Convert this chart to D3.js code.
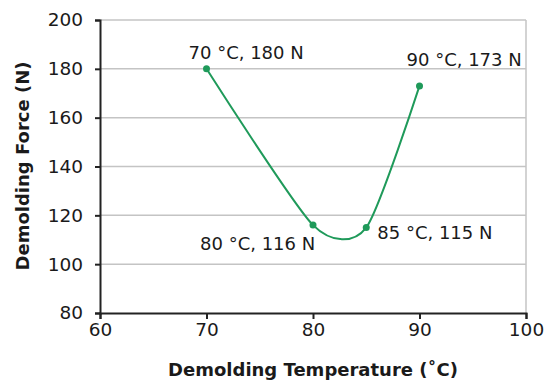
<!DOCTYPE html>
<html>
<head>
<meta charset="utf-8">
<script src="https://cdn.jsdelivr.net/npm/d3@7"></script>
<style>
  body { margin: 0; background: #fff; }
  svg { display: block; font-family: "DejaVu Sans", sans-serif; }
</style>
</head>
<body>
<div id="chart"></div>
<script>
// data
var temps = [70, 80, 85, 90];
var forces = [180, 116, 115, 173];
var pointLabels = ["70 °C, 180 N", "80 °C, 116 N", "85 °C, 115 N", "90 °C, 173 N"];
var xTicks = [60, 70, 80, 90, 100];
var yTicks = [80, 100, 120, 140, 160, 180, 200];

var width = 546;
var height = 381;
var margin = {"top": 20, "right": 20, "bottom": 68, "left": 100};

var data = temps.map(function(t, i) {
    return {x: t, y: forces[i], label: pointLabels[i]};
});

// label offsets from the point (dx, baseline dy)
var labelPos = [[-18, -10], [-113, 25], [11, 11], [-13, -20]];

var xScale = d3.scaleLinear()
    .domain([60, 100])
    .range([margin.left, width - margin.right]);
var yScale = d3.scaleLinear()
    .domain([80, 200])
    .range([height - margin.bottom, margin.top]);

var svg = d3.select("#chart").append("svg")
    .attr("width", width)
    .attr("height", height);

// gridlines
svg.append("g")
    .selectAll("line")
    .data(yTicks.slice(1))
    .enter().append("line")
    .attr("x1", xScale(60))
    .attr("x2", xScale(100))
    .attr("y1", function(d) { return yScale(d); })
    .attr("y2", function(d) { return yScale(d); })
    .attr("stroke", "#c4c4c4")
    .attr("stroke-width", 1.5);

// right border of plot area
svg.append("line")
    .attr("x1", xScale(100))
    .attr("x2", xScale(100))
    .attr("y1", yScale(200))
    .attr("y2", yScale(80))
    .attr("stroke", "#c4c4c4")
    .attr("stroke-width", 1.5);

// axes
var xAxis = d3.axisBottom(xScale)
    .tickValues(xTicks)
    .tickSize(6)
    .tickPadding(4)
    .tickFormat(d3.format("d"));
var yAxis = d3.axisLeft(yScale)
    .tickValues(yTicks)
    .tickSize(5)
    .tickPadding(12)
    .tickFormat(d3.format("d"));

var gx = svg.append("g")
    .attr("transform", "translate(" + [0, height - margin.bottom] + ")")
    .call(xAxis);
var gy = svg.append("g")
    .attr("transform", "translate(" + [margin.left, 0] + ")")
    .call(yAxis);

[gx, gy].forEach(function(g) {
    g.select(".domain").attr("stroke", "#222").attr("stroke-width", 2);
    g.selectAll(".tick line").attr("stroke", "#222").attr("stroke-width", 2);
    g.selectAll(".tick text")
        .attr("fill", "#1a1a1a")
        .style("font-family", "DejaVu Sans, sans-serif")
        .style("font-size", "18.5px");
});

// axis titles
svg.append("text")
    .attr("x", (xScale(60) + xScale(100)) / 2)
    .attr("y", 376)
    .attr("text-anchor", "middle")
    .style("font-size", "18px")
    .style("font-weight", "bold")
    .attr("fill", "#1a1a1a")
    .text("Demolding Temperature (˚C)");

svg.append("text")
    .attr("transform", "translate(29,166) rotate(-90)")
    .attr("text-anchor", "middle")
    .style("font-size", "18px")
    .style("font-weight", "bold")
    .attr("fill", "#1a1a1a")
    .text("Demolding Force (N)");

// smoothed line
var line = d3.line()
    .x(function(d) { return xScale(d.x); })
    .y(function(d) { return yScale(d.y); })
    .curve(d3.curveCardinal.tension(0.3));

svg.append("path")
    .datum(data)
    .attr("d", line)
    .attr("fill", "none")
    .attr("stroke", "#1f9a5a")
    .attr("stroke-width", 2);

svg.selectAll("circle.pt")
    .data(data)
    .enter().append("circle")
    .attr("class", "pt")
    .attr("cx", function(d) { return xScale(d.x); })
    .attr("cy", function(d) { return yScale(d.y); })
    .attr("r", 3.5)
    .attr("fill", "#1f9a5a");

svg.selectAll("text.lbl")
    .data(data)
    .enter().append("text")
    .attr("class", "lbl")
    .attr("x", function(d, i) { return xScale(d.x) + labelPos[i][0]; })
    .attr("y", function(d, i) { return yScale(d.y) + labelPos[i][1]; })
    .style("font-size", "18px")
    .attr("fill", "#1a1a1a")
    .text(function(d) { return d.label; });
</script>
</body>
</html>
